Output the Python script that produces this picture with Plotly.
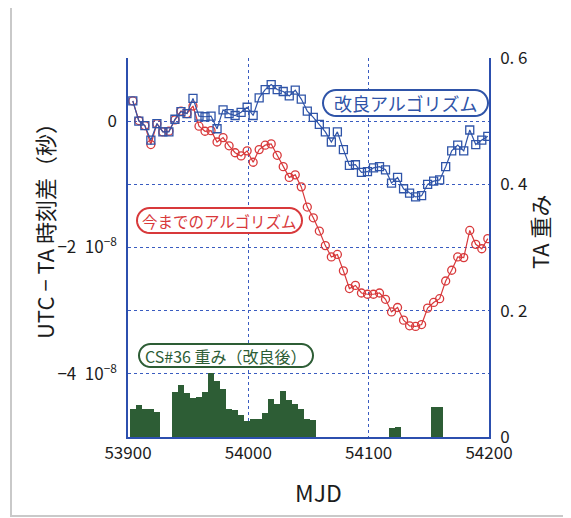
import math
import plotly.graph_objects as go

# ---- data (MJD every 5 days; time differences in units of 1e-8 s) ----
mjd = [53904 + 5 * k for k in range(60)]

improved = [0.32, 0.00, -0.07, -0.30, -0.04, -0.17, -0.17, 0.03, 0.15, 0.12,
            0.36, 0.08, 0.07, 0.08, -0.12, 0.18, 0.12, 0.09, 0.14, 0.22,
            0.09, 0.37, 0.50, 0.58, 0.50, 0.47, 0.40, 0.49, 0.35, 0.16,
            0.06, -0.05, -0.17, -0.33, -0.17, -0.45, -0.70, -0.69, -0.81, -0.80,
            -0.74, -0.72, -0.77, -0.98, -0.89, -1.07, -1.14, -1.20, -1.18, -1.00,
            -0.95, -0.93, -0.72, -0.47, -0.38, -0.47, -0.14, -0.37, -0.30, -0.24]

previous = [0.32, 0.01, -0.07, -0.37, -0.04, -0.17, -0.16, 0.02, 0.16, 0.12,
            0.24, -0.08, -0.16, -0.15, -0.33, -0.26, -0.39, -0.50, -0.55, -0.47,
            -0.65, -0.45, -0.38, -0.36, -0.54, -0.72, -0.89, -0.85, -1.04, -1.36,
            -1.53, -1.74, -1.97, -2.15, -2.11, -2.37, -2.65, -2.60, -2.72, -2.74,
            -2.74, -2.72, -2.82, -3.02, -2.95, -3.15, -3.24, -3.25, -3.22, -2.96,
            -2.87, -2.81, -2.53, -2.36, -2.15, -2.16, -1.73, -1.95, -2.02, -1.86]

weight = [0.044, 0.051, 0.044, 0.044, 0.039, 0, 0, 0.071, 0.082, 0.069,
          0.061, 0.063, 0.072, 0.102, 0.088, 0.076, 0.044, 0.042, 0.035, 0.025,
          0.028, 0.028, 0.038, 0.060, 0.053, 0.073, 0.058, 0.052, 0.044, 0.028,
          0.027, 0, 0, 0, 0, 0, 0, 0, 0, 0,
          0, 0, 0, 0.015, 0.016, 0, 0, 0, 0, 0,
          0.048, 0.048, 0, 0, 0, 0, 0, 0, 0, 0]

x_ticks = [53900, 54000, 54100, 54200]
left_tickvals = [-4, -2, 0]
left_ticktext = ["−4\u200210<sup>−8</sup>", "−2\u200210<sup>−8</sup>", "0"]
right_tickvals = [0, 0.2, 0.4, 0.6]
right_ticktext = ["0", "0. 2", "0. 4", "0. 6"]

# ---- style ----
OFF = 8                      # page body margin offset
W, H = 571 - OFF, 518 - OFF
ML, MR, MT, MB = 128 - OFF, 82, 58 - OFF, 81
PW, PH = W - ML - MR, H - MT - MB
FONT = "Noto Sans CJK JP, Noto Sans, sans-serif"
BLUE = "#2f54a8"
RED = "#d8393b"
GREEN = "#2d5d35"
AXIS = "#2c4fae"
GRID = "#3a5cc0"
TXT = "#1c1c1c"


def px2paper(x, y):
    # x, y are page pixel positions
    x -= OFF
    y -= OFF
    return (x - ML) / PW, (H - MB - y) / PH


def pill(x0, y0, x1, y1, n=16):
    r = (y1 - y0) / 2
    cy = (y0 + y1) / 2
    pts = []
    for i in range(n + 1):
        a = -math.pi / 2 + math.pi * i / n
        pts.append((x1 - r + r * math.cos(a), cy + r * math.sin(a)))
    for i in range(n + 1):
        a = math.pi / 2 + math.pi * i / n
        pts.append((x0 + r + r * math.cos(a), cy + r * math.sin(a)))
    pp = [px2paper(x, y) for x, y in pts]
    return "M " + " L ".join(f"{a:.5f},{b:.5f}" for a, b in pp) + " Z"


fig = go.Figure()

fig.add_trace(go.Bar(
    x=mjd, y=weight, width=5, yaxis="y",
    marker=dict(color=GREEN, line=dict(width=0)),
    showlegend=False, hoverinfo="skip"))

fig.add_trace(go.Scatter(
    x=mjd, y=previous, yaxis="y2", mode="lines+markers",
    line=dict(color=RED, width=1.2),
    marker=dict(symbol="circle-open", size=8, color=RED, line=dict(width=1.3)),
    showlegend=False))

fig.add_trace(go.Scatter(
    x=mjd, y=improved, yaxis="y2", mode="lines+markers",
    line=dict(color=BLUE, width=1.2),
    marker=dict(symbol="square-open", size=8, color=BLUE, line=dict(width=1.3)),
    showlegend=False))

labels = [
    ("改良アルゴリズム", (323, 90, 488, 116), BLUE, 18),
    ("今までのアルゴリズム", (137, 208, 302, 233), RED, 15.5),
    ("CS#36 重み（改良後）", (139, 344, 313, 367), GREEN, 16),
]
shapes = []
annotations = []
for text, (x0, y0, x1, y1), col, fs in labels:
    shapes.append(dict(type="path", xref="paper", yref="paper",
                       path=pill(x0, y0, x1, y1), fillcolor="white",
                       line=dict(color=col, width=2), layer="above"))
    cx, cy = px2paper((x0 + x1) / 2, (y0 + y1) / 2)
    annotations.append(dict(text=text, x=cx, y=cy, xref="paper", yref="paper",
                            showarrow=False, xanchor="center", yanchor="middle",
                            font=dict(family=FONT, size=fs, color=col)))

# axis titles
tx, ty = px2paper(44, 226)
annotations.append(dict(text="UTC − TA 時刻差（秒）", x=tx, y=ty, xref="paper", yref="paper",
                        showarrow=False, textangle=-90, xanchor="center", yanchor="middle",
                        font=dict(family=FONT, size=22, color=TXT)))
tx, ty = px2paper(539, 232)
annotations.append(dict(text="TA 重み", x=tx, y=ty, xref="paper", yref="paper",
                        showarrow=False, textangle=-90, xanchor="center", yanchor="middle",
                        font=dict(family=FONT, size=22, color=TXT)))
tx, ty = px2paper(318, 492)
annotations.append(dict(text="MJD", x=tx, y=ty, xref="paper", yref="paper",
                        showarrow=False, xanchor="center", yanchor="middle",
                        font=dict(family=FONT, size=23, color=TXT)))

# outer light frame
fx = px2paper(11, 0)[0]
shapes.append(dict(type="line", xref="paper", yref="paper",
                   x0=fx, x1=fx, y0=px2paper(0, 8)[1], y1=px2paper(0, 517)[1],
                   line=dict(color="#c9c9c9", width=2), layer="below"))
shapes.append(dict(type="line", xref="paper", yref="paper",
                   x0=fx, x1=px2paper(571, 0)[0],
                   y0=px2paper(0, 516)[1], y1=px2paper(0, 516)[1],
                   line=dict(color="#c9c9c9", width=2), layer="below"))

fig.update_layout(
    width=W, height=H,
    margin=dict(l=ML, r=MR, t=MT, b=MB, autoexpand=False),
    paper_bgcolor="white", plot_bgcolor="white",
    bargap=0, showlegend=False,
    font=dict(family=FONT, size=17, color=TXT),
    xaxis=dict(range=[53900, 54200], tickvals=x_ticks, ticktext=[str(v) for v in x_ticks],
               showline=True, linecolor=AXIS, linewidth=1.5,
               showgrid=True, gridcolor=GRID, griddash="dot", gridwidth=1,
               zeroline=False, ticks="", tickfont=dict(size=17, color=TXT)),
    yaxis=dict(range=[0, 0.6], side="right", tickvals=right_tickvals, ticktext=right_ticktext,
               showline=True, linecolor=AXIS, linewidth=1.5, showgrid=False,
               zeroline=False, ticks="", ticklabelstandoff=6,
               tickfont=dict(size=17, color=TXT)),
    yaxis2=dict(range=[-5, 1], overlaying="y", side="left",
                tickvals=left_tickvals, ticktext=left_ticktext,
                showline=True, linecolor=AXIS, linewidth=1.5,
                showgrid=True, gridcolor=GRID, griddash="dot", gridwidth=1,
                minor=dict(tick0=0, dtick=1, showgrid=True, gridcolor=GRID,
                           griddash="dot", gridwidth=1, ticks=""),
                zeroline=False, ticks="", ticklabelstandoff=6,
                tickfont=dict(size=17, color=TXT)),
    shapes=shapes, annotations=annotations,
)

fig.write_html("out.html")
